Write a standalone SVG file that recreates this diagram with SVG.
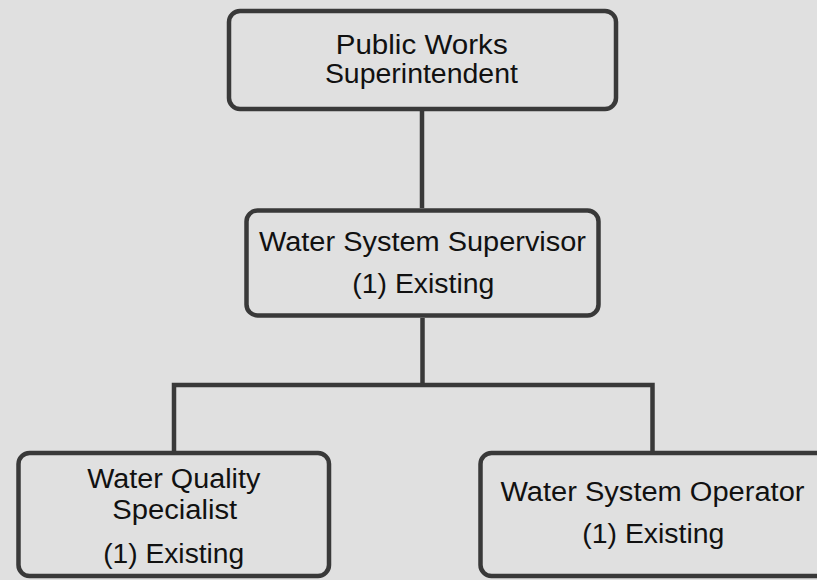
<svg xmlns="http://www.w3.org/2000/svg" width="817" height="580" viewBox="0 0 817 580">
<style>
.box{fill:#e0e0e0;stroke:#393939;stroke-width:4.5}
.ln{fill:none;stroke:#393939;stroke-width:4.5;stroke-linejoin:miter}
text{font-family:"Liberation Sans",Arial,sans-serif;font-size:27px;fill:#111;text-anchor:middle}
</style>
<rect width="817" height="580" fill="#e0e0e0"/>
<g id="connectors">
<path class="ln" d="M422,111 V208"/>
<path class="ln" d="M422.5,318 V385"/>
<path class="ln" d="M174,451 V385 H652.5 V451"/>
</g>
<g id="n1">
<rect class="box" x="229" y="11" width="387" height="98" rx="11"/>
<text x="421.7" y="54.3" textLength="172" lengthAdjust="spacingAndGlyphs">Public Works</text>
<text x="421.4" y="83.3" textLength="193" lengthAdjust="spacingAndGlyphs">Superintendent</text>
</g>
<g id="n2">
<rect class="box" x="246.5" y="210.5" width="352" height="105" rx="11"/>
<text x="422.5" y="250.7" textLength="327" lengthAdjust="spacingAndGlyphs">Water System Supervisor</text>
<text x="423.3" y="292.7" textLength="142" lengthAdjust="spacingAndGlyphs">(1) Existing</text>
</g>
<g id="n3">
<rect class="box" x="18.5" y="453" width="310.5" height="123" rx="11"/>
<text x="173.8" y="488.3" textLength="173" lengthAdjust="spacingAndGlyphs">Water Quality</text>
<text x="174.7" y="519.3" textLength="125" lengthAdjust="spacingAndGlyphs">Specialist</text>
<text x="173.7" y="562.7" textLength="141" lengthAdjust="spacingAndGlyphs">(1) Existing</text>
</g>
<g id="n4">
<rect class="box" x="480.5" y="453" width="380" height="123" rx="11"/>
<text x="652.5" y="500.7" textLength="304" lengthAdjust="spacingAndGlyphs">Water System Operator</text>
<text x="653.3" y="543.3" textLength="142" lengthAdjust="spacingAndGlyphs">(1) Existing</text>
</g>
</svg>
